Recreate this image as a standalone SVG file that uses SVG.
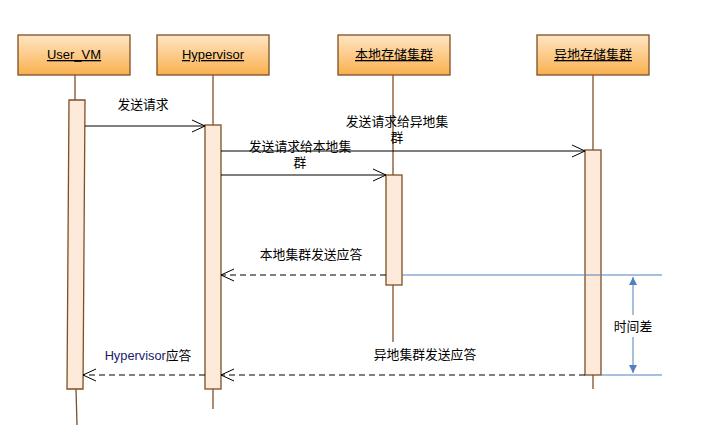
<svg xmlns="http://www.w3.org/2000/svg" width="709" height="438" viewBox="0 0 709 438">
<defs>
<linearGradient id="hg" x1="0" y1="0" x2="0" y2="1">
<stop offset="0" stop-color="#FFE6C4"/>
<stop offset="1" stop-color="#F9B04F"/>
</linearGradient>
<marker id="open" markerWidth="16" markerHeight="14" refX="13" refY="7" orient="auto" markerUnits="userSpaceOnUse">
<path d="M0,1 L13,7 L0,13" fill="none" stroke="#000" stroke-width="1"/>
</marker>
<marker id="bl" markerWidth="10" markerHeight="10" refX="8" refY="4" orient="auto" markerUnits="userSpaceOnUse">
<path d="M0,0 L8,4 L0,8 Z" fill="#4F81BD"/>
</marker>
</defs>
<style>
.hdr{fill:url(#hg);stroke:#7F4F24;stroke-width:1.3}
.ht{font-family:"Liberation Sans","Noto Sans CJK SC",sans-serif;font-size:13px;fill:#000;text-anchor:middle;text-decoration:underline}
.life{stroke:#7F4F24;stroke-width:1.3;fill:none}
.act{fill:#FDEADA;stroke:#7F4F24;stroke-width:1.3}
.msg{stroke:#000;stroke-width:1.2;fill:none;marker-end:url(#open)}
.dash{stroke-dasharray:6,4}
.lbl{font-family:"Liberation Sans","Noto Sans CJK SC",sans-serif;font-size:12.8px;fill:#000;text-anchor:middle}
.blue{stroke:#4F81BD;stroke-width:1;fill:none}
</style>
<rect width="709" height="438" fill="#fff"/>
<g id="user_vm">
<rect class="hdr" x="18" y="35" width="112" height="40"/>
<text class="ht" x="74" y="59">User_VM</text>
<line class="life" x1="75" y1="75" x2="75" y2="100"/>
<polygon class="act" points="69,100 85,100 83,389 67,389"/>
<line class="life" x1="76" y1="389" x2="77" y2="425"/>
</g>
<g id="hypervisor">
<rect class="hdr" x="157" y="35" width="112" height="40"/>
<text class="ht" x="213" y="59">Hypervisor</text>
<line class="life" x1="213" y1="75" x2="213" y2="125"/>
<rect class="act" x="205" y="125" width="16" height="264"/>
<line class="life" x1="213" y1="389" x2="213" y2="409"/>
</g>
<g id="local">
<rect class="hdr" x="338" y="35" width="112" height="40"/>
<text class="ht" x="394" y="59">本地存储集群</text>
<line class="life" x1="393" y1="75" x2="393" y2="175"/>
<rect class="act" x="386" y="175" width="16" height="110"/>
<line class="life" x1="393" y1="285" x2="393" y2="342"/>
</g>
<g id="remote">
<rect class="hdr" x="537" y="35" width="112" height="40"/>
<text class="ht" x="593" y="59">异地存储集群</text>
<line class="life" x1="593" y1="75" x2="593" y2="150"/>
<rect class="act" x="585" y="150" width="16" height="225"/>
<line class="life" x1="593" y1="375" x2="593" y2="389"/>
</g>
<g id="connectors">
<line class="msg" x1="85" y1="126" x2="205" y2="126"/>
<line class="msg" x1="221" y1="151" x2="585" y2="151"/>
<line class="msg" x1="221" y1="175" x2="386" y2="175"/>
<line class="msg dash" x1="386" y1="275" x2="221" y2="275"/>
<line class="msg dash" x1="585" y1="375" x2="221" y2="375"/>
<line class="msg dash" x1="205" y1="375" x2="83" y2="375"/>
<line class="blue" x1="402" y1="275" x2="662" y2="275"/>
<line class="blue" x1="601" y1="375" x2="662" y2="375"/>
<line class="blue" x1="633" y1="315" x2="633" y2="277" marker-end="url(#bl)"/>
<line class="blue" x1="633" y1="337" x2="633" y2="373" marker-end="url(#bl)"/>
</g>
<g id="labels">
<text class="lbl" x="143" y="109">发送请求</text>
<text class="lbl" x="397" y="126">发送请求给异地集</text>
<text class="lbl" x="397" y="142">群</text>
<text class="lbl" x="300" y="151">发送请求给本地集</text>
<text class="lbl" x="300" y="167">群</text>
<text class="lbl" x="311" y="259">本地集群发送应答</text>
<text class="lbl" x="425" y="359">异地集群发送应答</text>
<text class="lbl" x="148" y="360"><tspan fill="#1a1a6e">Hypervisor</tspan>应答</text>
<text class="lbl" x="633" y="331">时间差</text>
</g>
</svg>
